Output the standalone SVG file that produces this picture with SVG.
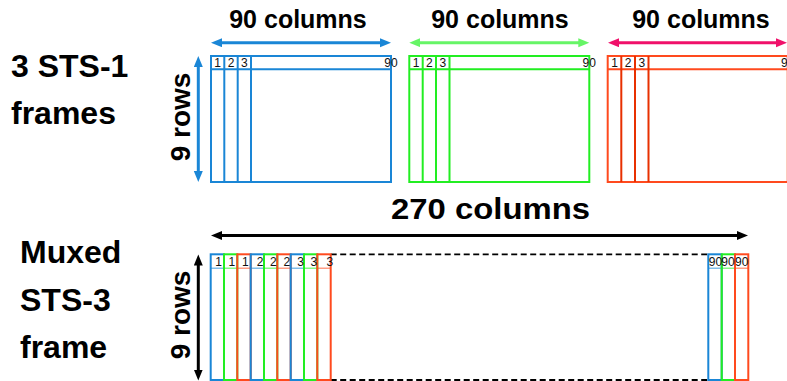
<svg xmlns="http://www.w3.org/2000/svg" width="787" height="381" viewBox="0 0 787 381">
  <style>
    .title { font-family: "Liberation Sans", Arial, sans-serif; font-weight: bold; fill: #000; }
    .big { font-size: 32px; }
    .cols { font-size: 25px; text-anchor: middle; }
    .rows { font-size: 28px; text-anchor: middle; }
    .num { font-family: "Liberation Sans", Arial, sans-serif; font-size: 12px; fill: #111; }
    .mid { text-anchor: middle; }
    .end { text-anchor: end; }
    .frame { fill: none; stroke-width: 2; }
    .blue { stroke: #1a86d6; }
    .green { stroke: #22ee22; }
    .red { stroke: #ff4a1e; }
    .redin { stroke: #e83000; }
    .hdr { stroke-width: 1.6; stroke-opacity: 0.55; }
    .arrow { stroke-width: 3; fill: none; }
    .dash { stroke: #000; stroke-width: 1.8; stroke-dasharray: 6 3.5; fill: none; }
  </style>
  <defs>
    <marker id="ah-blue" markerUnits="userSpaceOnUse" markerWidth="12" markerHeight="10" refX="3" refY="4.5" orient="auto-start-reverse">
      <path d="M0,0 L11,4.5 L0,9 z" fill="#1a86d6"/>
    </marker>
    <marker id="ah-green" markerUnits="userSpaceOnUse" markerWidth="12" markerHeight="10" refX="3" refY="4.5" orient="auto-start-reverse">
      <path d="M0,0 L11,4.5 L0,9 z" fill="#66f566"/>
    </marker>
    <marker id="ah-pink" markerUnits="userSpaceOnUse" markerWidth="12" markerHeight="10" refX="3" refY="4.5" orient="auto-start-reverse">
      <path d="M0,0 L11,4.5 L0,9 z" fill="#f0106a"/>
    </marker>
    <marker id="ah-black" markerUnits="userSpaceOnUse" markerWidth="12" markerHeight="10" refX="3" refY="4.5" orient="auto-start-reverse">
      <path d="M0,0 L11,4.5 L0,9 z" fill="#000"/>
    </marker>
  </defs>

  <rect width="787" height="381" fill="#fff"/>

  <!-- side captions -->
  <g id="caption-sts1">
    <text class="title big" x="11" y="77">3 STS-1</text>
    <text class="title big" x="11" y="124">frames</text>
  </g>
  <g id="caption-sts3">
    <text class="title big" x="20" y="263">Muxed</text>
    <text class="title big" x="20" y="311">STS-3</text>
    <text class="title big" x="20" y="358">frame</text>
  </g>

  <!-- dimension labels -->
  <g id="dimension-labels">
    <text class="title cols" x="298" y="28">90 columns</text>
    <text class="title cols" x="500" y="28">90 columns</text>
    <text class="title cols" x="701" y="28">90 columns</text>
    <text class="title rows" transform="translate(190,117) rotate(-90)">9 rows</text>
    <text class="title" x="391" y="219" font-size="30" textLength="199" lengthAdjust="spacingAndGlyphs">270 columns</text>
    <text class="title rows" transform="translate(190,315) rotate(-90)">9 rows</text>
  </g>

  <!-- STS-1 frame #1 (blue) -->
  <g id="sts1-blue">
    <rect class="frame blue" x="211" y="56" width="180" height="126"/>
    <path class="frame blue" d="M211,69.3 H391 M224.3,56 V182 M237.7,56 V182 M251,56 V182"/>
    <text class="num mid" x="217.7" y="66.5">1</text>
    <text class="num mid" x="231" y="66.5">2</text>
    <text class="num mid" x="244.3" y="66.5">3</text>
    <text class="num" x="384.3" y="66.5">90</text>
  </g>

  <!-- STS-1 frame #2 (green) -->
  <g id="sts1-green">
    <rect class="frame green" x="409.3" y="56" width="180" height="126"/>
    <path class="frame green" d="M409.3,69.3 H589.3 M422.7,56 V182 M436,56 V182 M449.5,56 V182"/>
    <text class="num mid" x="416" y="66.5">1</text>
    <text class="num mid" x="429.3" y="66.5">2</text>
    <text class="num mid" x="442.8" y="66.5">3</text>
    <text class="num" x="582.6" y="66.5">90</text>
  </g>

  <!-- STS-1 frame #3 (red) -->
  <g id="sts1-red">
    <rect class="frame red" x="607.7" y="56" width="180" height="126"/>
    <path class="frame red" d="M607.7,69.3 H787.7"/>
    <path class="frame redin" d="M621.3,56 V182 M635,56 V182 M648.5,56 V182"/>
    <text class="num mid" x="614.5" y="66.5">1</text>
    <text class="num mid" x="628.2" y="66.5">2</text>
    <text class="num mid" x="641.8" y="66.5">3</text>
    <text class="num" x="781" y="66.5">90</text>
  </g>

  <!-- interleaved STS-3 frame -->
  <g id="sts3-muxed">
    <path class="dash" d="M330.7,254.3 H708.3 M330.7,380 H708.3"/>
    <!-- header strip -->
    <path class="hdr blue" d="M210.7,268.3 H224 M250.7,268.3 H264 M290.7,268.3 H304 M708.3,268.3 H721.7"/>
    <path class="hdr green" d="M224,268.3 H237.3 M264,268.3 H277.3 M304,268.3 H317.3 M721.7,268.3 H735"/>
    <path class="hdr red" d="M237.3,268.3 H250.7 M277.3,268.3 H290.7 M317.3,268.3 H330.7 M735,268.3 H748.3"/>
    <!-- columns -->
    <rect class="frame blue" x="210.7" y="254.3" width="13.3" height="125.7"/>
    <rect class="frame green" x="224" y="254.3" width="13.3" height="125.7"/>
    <rect class="frame red" x="237.3" y="254.3" width="13.4" height="125.7"/>
    <rect class="frame blue" x="250.7" y="254.3" width="13.3" height="125.7"/>
    <rect class="frame green" x="264" y="254.3" width="13.3" height="125.7"/>
    <rect class="frame red" x="277.3" y="254.3" width="13.4" height="125.7"/>
    <rect class="frame blue" x="290.7" y="254.3" width="13.3" height="125.7"/>
    <rect class="frame green" x="304" y="254.3" width="13.3" height="125.7"/>
    <rect class="frame red" x="317.3" y="254.3" width="13.4" height="125.7"/>
    <rect class="frame blue" x="708.3" y="254.3" width="13.4" height="125.7"/>
    <rect class="frame green" x="721.7" y="254.3" width="13.3" height="125.7"/>
    <rect class="frame red" x="735" y="254.3" width="13.3" height="125.7"/>
    <!-- column numbers -->
    <text class="num end" x="222" y="265.5">1</text>
    <text class="num end" x="235.3" y="265.5">1</text>
    <text class="num end" x="248.7" y="265.5">1</text>
    <text class="num end" x="263.5" y="265.5">2</text>
    <text class="num end" x="276.8" y="265.5">2</text>
    <text class="num end" x="290.2" y="265.5">2</text>
    <text class="num end" x="304" y="265.5">3</text>
    <text class="num end" x="317.3" y="265.5">3</text>
    <text class="num end" x="333.3" y="265.5">3</text>
    <text class="num mid" x="715.5" y="265.5">90</text>
    <text class="num mid" x="728" y="265.5">90</text>
    <text class="num mid" x="741.7" y="265.5">90</text>
  </g>

  <!-- dimension arrows -->
  <g id="connectors">
    <line class="arrow" x1="219" y1="42.7" x2="383" y2="42.7" stroke="#1a86d6" marker-start="url(#ah-blue)" marker-end="url(#ah-blue)"/>
    <line class="arrow" x1="417.3" y1="42.7" x2="581.3" y2="42.7" stroke="#66f566" marker-start="url(#ah-green)" marker-end="url(#ah-green)"/>
    <line class="arrow" x1="616" y1="42.7" x2="779" y2="42.7" stroke="#f0106a" marker-start="url(#ah-pink)" marker-end="url(#ah-pink)"/>
    <line class="arrow" x1="198.3" y1="64" x2="198.3" y2="174" stroke="#1a86d6" marker-start="url(#ah-blue)" marker-end="url(#ah-blue)"/>
    <line class="arrow" x1="219" y1="235.5" x2="740" y2="235.5" stroke="#000" marker-start="url(#ah-black)" marker-end="url(#ah-black)"/>
    <line class="arrow" x1="198.3" y1="262.5" x2="198.3" y2="372.5" stroke="#000" marker-start="url(#ah-black)" marker-end="url(#ah-black)"/>
  </g>
</svg>
